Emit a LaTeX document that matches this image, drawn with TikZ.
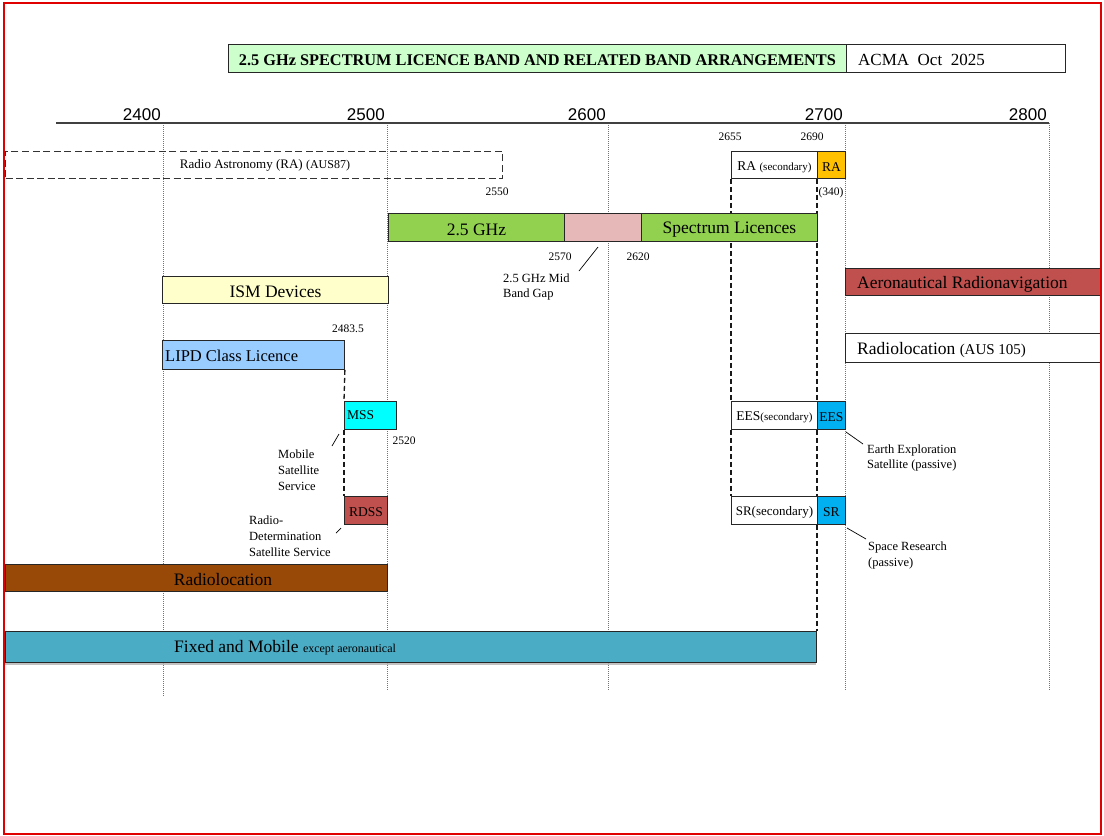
\documentclass[tikz,border=0pt]{standalone}
\usepackage{fontspec}
\setmainfont{Liberation Serif}
\newfontfamily\arialf{Liberation Sans}
\usetikzlibrary{backgrounds,shadows}
\pgfdeclarelayer{bottom}
\pgfsetlayers{bottom,background,main}
\definecolor{titlegreen}{HTML}{CCFFCC}
\definecolor{bandgreen}{HTML}{92D050}
\definecolor{gappink}{HTML}{E6B8B7}
\definecolor{raorange}{HTML}{FFC000}
\definecolor{ismyellow}{HTML}{FFFFCC}
\definecolor{lipdblue}{HTML}{99CCFF}
\definecolor{msscyan}{HTML}{00FFFF}
\definecolor{darkred}{HTML}{C0504D}
\definecolor{brownband}{HTML}{984807}
\definecolor{fmblue}{HTML}{4BACC6}
\definecolor{eesblue}{HTML}{00B0F0}
\definecolor{framered}{HTML}{E00000}
\newcommand\myfs[1]{\fontsize{#1}{#1}\selectfont}
\newcommand\lowr[1]{\raisebox{-2pt}[\height][\depth]{#1}}
\begin{document}
\begin{tikzpicture}[x=1pt,y=-1pt,
  band/.style={draw=black!85, line width=0.9pt, rectangle, inner sep=0pt, anchor=north west, font=\myfs{17.5}},
  bandtxt/.style={inner sep=0pt, font=\myfs{17.5}},
  smtxt/.style={inner sep=0pt, font=\myfs{13.5}},
  num/.style={inner sep=0pt, font=\myfs{11.5}},
  note/.style={inner sep=0pt, anchor=west, align=left, font=\fontsize{12.5}{15.8}\selectfont},
  gridline/.style={black!55, line width=0.5pt, dash pattern=on 1pt off 1pt},
  secline/.style={black!90, line width=1.3pt, dash pattern=on 5pt off 3pt},
  radash/.style={draw=black!80, line width=1pt, dash pattern=on 7pt off 3.5pt},
  lead/.style={black, line width=0.7pt},
  axisnum/.style={font=\arialf\myfs{17}, anchor=south east, inner sep=2pt},
]
\useasboundingbox (0,0) rectangle (1104,836);
\begin{pgfonlayer}{bottom}
\fill[white] (0,0) rectangle (1104,836);
\end{pgfonlayer}

% axis
\coordinate (axL) at (56,123);
\coordinate (t2400) at (163,123);
\coordinate (t2500) at (387,123);
\coordinate (t2600) at (608,123);
\coordinate (t2700) at (845,123);
\coordinate (t2800) at (1049,123);
\coordinate (e2400) at (163,697);
\coordinate (e2500) at (387,690);
\coordinate (e2600) at (608,690);
\coordinate (e2700) at (845,690);
\coordinate (e2800) at (1049,690);
\draw[black!75, line width=1.2pt] (axL) -- (t2800);
\node[axisnum] (l2400) at (t2400) {2400};
\node[axisnum] (l2500) at (t2500) {2500};
\node[axisnum] (l2600) at (t2600) {2600};
\node[axisnum] (l2700) at (t2700) {2700};
\node[axisnum] (l2800) at (t2800) {2800};

% title
\node[band, fill=titlegreen, minimum width=618pt, minimum height=28pt, font=\bfseries\myfs{16.3}] (title) at (228,44) {\lowr{2.5 GHz SPECTRUM LICENCE BAND AND RELATED BAND ARRANGEMENTS}};
\node[band, fill=white, minimum width=219pt, minimum height=28pt] (acma) at (846,44) {};
\node[anchor=west, inner sep=0pt, font=\myfs{17}] (acmatxt) at (858,59.5) {ACMA\ \ Oct\ \ 2025};

% radio astronomy
\node[band, radash, minimum width=497pt, minimum height=27pt] (radioastro) at (5,151) {};
\node[inner sep=0pt, font=\myfs{13}] (radioastrotxt) at (265,165) {Radio Astronomy (RA) {\myfs{12}(AUS87)}};
\node[num] (n2550) at (497,192) {2550};

\node[band, fill=white, minimum width=86pt, minimum height=27pt, font=\myfs{13.5}] (rasec) at (731,151) {\lowr{RA {\myfs{11}(secondary)}}};
\node[band, fill=raorange, minimum width=28pt, minimum height=27pt, font=\myfs{13.5}] (ra) at (817,151) {\lowr{RA}};
\node[num] (n2655) at (730,137) {2655};
\node[num] (n2690) at (812,137) {2690};
\node[num] (n340) at (831,193) {(340)};

% 2.5 GHz band
\node[band, fill=bandgreen, minimum width=176pt, minimum height=28pt] (gb1) at (388,213) {\lowr{2.5 GHz}};
\node[band, fill=gappink, minimum width=77pt, minimum height=28pt] (gap) at (564,213) {};
\node[band, fill=bandgreen, minimum width=176pt, minimum height=28pt] (gb2) at (641,213) {\lowr{Spectrum Licences}};
\node[num] (n2570) at (560,257) {2570};
\node[num] (n2620) at (638,257) {2620};
\node[note, font=\fontsize{12.5}{15}\selectfont] (gapnote) at (503,287) {2.5 GHz Mid\\Band Gap};
\coordinate (gapA) at (598,247);
\coordinate (gapB) at (579,271);
\draw[lead] (gapA) -- (gapB);

% right side bands
\node[band, fill=darkred, minimum width=256pt, minimum height=27pt] (aero) at (845,268) {};
\node[bandtxt, anchor=west] (aerotxt) at (857,284) {Aeronautical Radionavigation};
\node[band, fill=white, minimum width=256pt, minimum height=29pt] (rlaus) at (845,333) {};
\node[bandtxt, anchor=west] (rlaustxt) at (857,350.5) {Radiolocation {\myfs{15}(AUS 105)}};

% ISM / LIPD
\node[band, fill=ismyellow, minimum width=226pt, minimum height=27pt] (ism) at (162,276) {\lowr{ISM Devices}};
\node[num] (n2483) at (348,329) {2483.5};
\node[band, fill=lipdblue, minimum width=182pt, minimum height=29pt] (lipd) at (162,340) {};
\node[bandtxt, anchor=west, font=\myfs{16.5}] (lipdtxt) at (165,356) {LIPD Class Licence};

% MSS / RDSS
\node[band, fill=msscyan, minimum width=52pt, minimum height=28pt] (mss) at (344,401) {};
\node[smtxt, anchor=west] (msstxt) at (347,415) {MSS};
\node[num] (n2520) at (404,441) {2520};
\node[note] (mssnote) at (278,470) {Mobile\\Satellite\\Service};
\coordinate (mssA) at (339,434);
\coordinate (mssB) at (332,446);
\draw[lead] (mssA) -- (mssB);
\node[band, fill=darkred, minimum width=43pt, minimum height=28pt, font=\myfs{13.5}] (rdss) at (344,496) {\lowr{RDSS}};
\node[note] (rdssnote) at (249,536) {Radio-\\Determination\\Satellite Service};
\coordinate (rdssA) at (341,528);
\coordinate (rdssB) at (336,533);
\draw[lead] (rdssA) -- (rdssB);

% EES / SR
\node[band, fill=white, minimum width=86pt, minimum height=28pt, font=\myfs{13.5}] (eessec) at (731,401) {\lowr{EES{\myfs{11}(secondary)}}};
\node[band, fill=eesblue, minimum width=28pt, minimum height=28pt, font=\myfs{13.5}] (ees) at (817,401) {\lowr{EES}};
\node[note] (eesnote) at (867,458) {Earth Exploration\\Satellite (passive)};
\coordinate (eesA) at (846,432);
\coordinate (eesB) at (863,444);
\draw[lead] (eesA) -- (eesB);
\node[band, fill=white, minimum width=86pt, minimum height=28pt, font=\myfs{13}] (srsec) at (731,496) {\lowr{SR(secondary)}};
\node[band, fill=eesblue, minimum width=28pt, minimum height=28pt, font=\myfs{13.5}] (sr) at (817,496) {\lowr{SR}};
\node[note] (srnote) at (868,555.5) {Space Research\\(passive)};
\coordinate (srA) at (847,528);
\coordinate (srB) at (866,539);
\draw[lead] (srA) -- (srB);

% Radiolocation and Fixed/Mobile
\node[band, fill=brownband, minimum width=382pt, minimum height=27pt] (rloc) at (5,564) {};
\node[bandtxt] (rloctxt) at (223,580) {Radiolocation};
\node[band, fill=fmblue, minimum width=811pt, minimum height=31pt, drop shadow={shadow xshift=0pt, shadow yshift=-2.5pt, fill=black!30, opacity=0.8}] (fm) at (5,631) {};
\node[bandtxt, anchor=west, font=\myfs{17.5}] (fmtxt) at (174,648) {Fixed and Mobile {\myfs{12}except aeronautical}};

% background lines
\begin{pgfonlayer}{background}
\draw[gridline] (t2400) -- (e2400);
\draw[gridline] (t2500) -- (e2500);
\draw[gridline] (t2600) -- (e2600);
\draw[gridline] (t2700) -- (e2700);
\draw[gridline] (t2800) -- (e2800);
\draw[secline] (rasec.south west) -- (eessec.north west);
\draw[secline] (eessec.south west) -- (srsec.north west);
\draw[secline] (ra.south west) -- (ees.north west);
\draw[secline] (ees.south west) -- (sr.north west);
\draw[secline] (sr.south west) -- (sr.south west |- fm.north);
\draw[secline] (lipd.south east) -- (mss.north west);
\draw[secline] (mss.south west) -- (rdss.north west);
\end{pgfonlayer}

% frame
\draw[framered, line width=2.5pt] (4,3) rectangle (1101,834);
\end{tikzpicture}
\end{document}
